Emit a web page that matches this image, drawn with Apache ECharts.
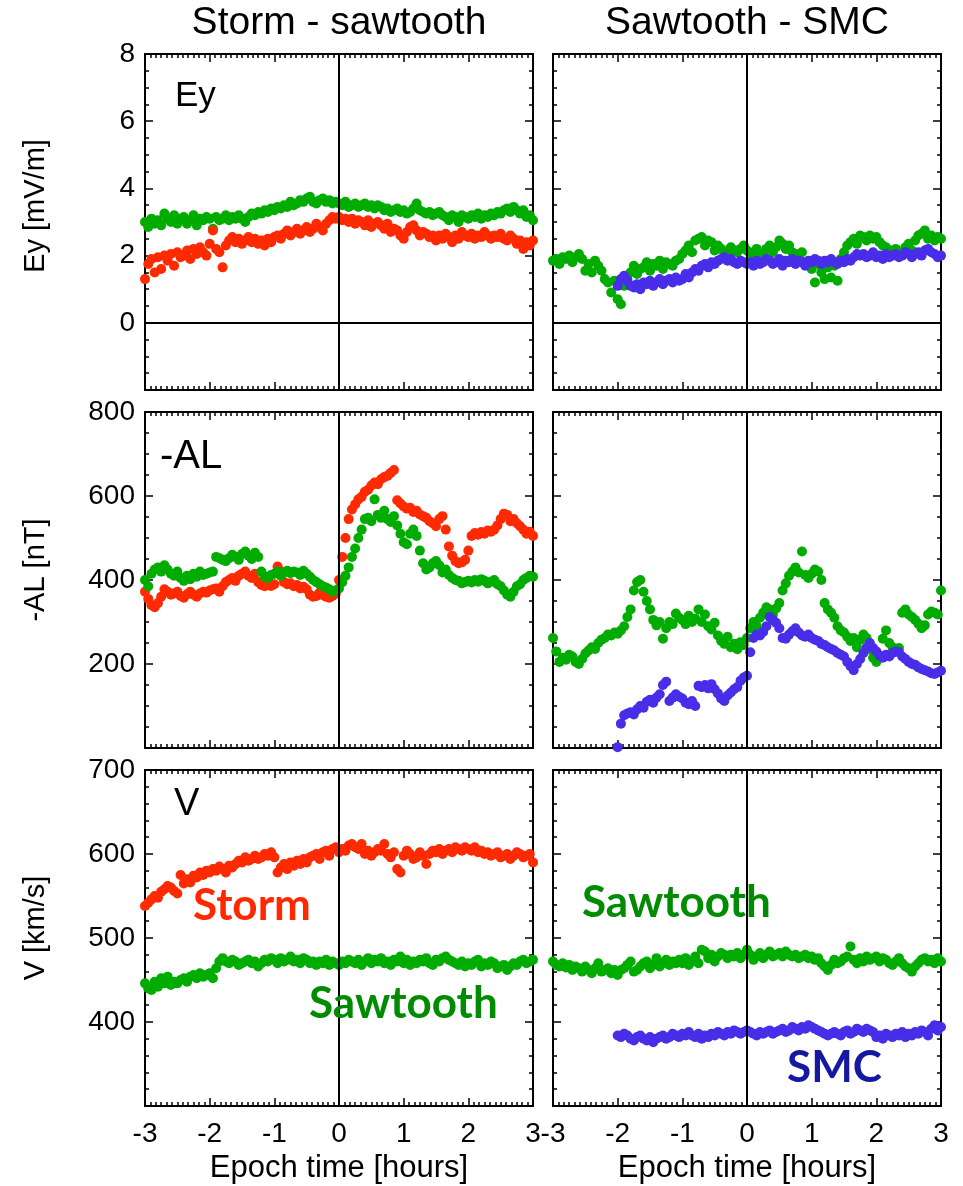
<!DOCTYPE html>
<html><head><meta charset="utf-8">
<script src="https://cdn.jsdelivr.net/npm/echarts@6/dist/echarts.min.js"></script>
<style>html,body{margin:0;padding:0;background:#fff}#c{width:963px;height:1186px}</style>
</head><body><div id="c"></div>
<script>
// Sample grid: values every DT hours, starting at the given epoch time
const DT = 0.05;
const START_FULL = -3;   // series covering -3..3 h
const START_SMC = -2;    // SMC series start at -2 h

const xTickValues = [-3, -2, -1, 0, 1, 2, 3];
const columnTitles = ['Storm - sawtooth', 'Sawtooth - SMC'];
const rowNames = ['Ey [mV/m]', '-AL [nT]', 'V [km/s]'];
const panelTags = ['Ey', '-AL', 'V'];
const xName = 'Epoch time [hours]';

// Row 1: Ey [mV/m]
const eyStorm = [1.3,1.75,1.9,1.5,1.95,1.6,2.0,1.85,2.05,1.7,2.1,1.95,2.0,2.15,1.9,2.2,2.05,2.25,2.1,2.0,
 2.35,2.75,2.2,2.1,1.65,2.3,2.45,2.55,2.4,2.5,2.35,2.45,2.55,2.4,2.5,2.35,2.45,2.3,2.5,2.4,
 2.55,2.6,2.5,2.65,2.75,2.6,2.7,2.8,2.65,2.75,2.85,2.7,2.8,2.95,2.85,2.75,2.95,3.05,3.15,3.1,
 3.15,3.05,3.1,3.0,3.1,2.95,3.05,3.0,2.9,3.05,2.85,2.95,3.0,2.9,2.8,2.95,2.7,2.8,2.75,2.6,
 2.5,2.7,2.85,2.9,2.75,2.6,2.7,2.65,2.55,2.6,2.45,2.6,2.5,2.65,2.55,2.4,2.6,2.5,2.7,2.6,
 2.55,2.65,2.5,2.6,2.55,2.7,2.6,2.5,2.6,2.55,2.65,2.5,2.45,2.6,2.5,2.35,2.45,2.2,2.4,2.3,
 2.45];
const eySawL = [3.0,2.85,3.1,2.95,3.05,2.9,3.25,3.1,3.0,3.2,2.95,3.1,3.15,2.95,3.05,3.2,2.9,3.1,3.05,3.15,
 3.1,2.8,3.15,3.05,3.1,3.2,3.05,3.15,3.1,3.2,3.1,3.0,3.15,3.25,3.2,3.3,3.25,3.35,3.3,3.4,
 3.35,3.45,3.4,3.5,3.45,3.6,3.5,3.55,3.65,3.6,3.7,3.75,3.6,3.55,3.65,3.7,3.6,3.65,3.55,3.6,
 3.55,3.5,3.6,3.45,3.5,3.55,3.45,3.5,3.55,3.45,3.5,3.4,3.5,3.45,3.35,3.4,3.3,3.35,3.4,3.3,
 3.35,3.25,3.3,3.4,3.55,3.35,3.3,3.25,3.3,3.2,3.25,3.3,3.2,3.15,3.05,3.2,3.15,3.0,3.2,3.15,
 3.1,3.2,3.15,3.25,3.1,3.2,3.15,3.25,3.2,3.3,3.25,3.35,3.4,3.3,3.45,3.35,3.25,3.35,3.15,3.2,
 3.05];
const eySawR = [1.85,1.9,1.75,1.95,1.9,2.0,1.8,1.95,2.05,1.9,1.55,1.75,1.5,1.85,1.7,1.55,1.3,1.2,0.9,1.25,
 0.7,0.55,1.1,1.3,1.5,1.7,1.45,1.6,1.65,1.8,1.55,1.75,1.7,1.85,1.6,1.8,1.75,1.7,1.85,1.9,
 2.05,2.15,2.3,2.1,2.45,2.5,2.55,2.3,2.45,2.4,2.15,2.3,2.2,2.1,2.05,2.25,2.15,2.1,2.2,2.3,
 2.15,2.05,2.1,2.2,1.95,2.05,2.2,2.3,2.1,2.25,2.45,2.35,2.2,2.3,2.1,2.05,1.95,2.1,1.8,1.75,
 1.6,1.2,1.75,1.5,1.3,1.65,1.35,1.7,1.25,1.9,2.1,2.3,2.4,2.5,2.35,2.6,2.55,2.45,2.6,2.5,
 2.55,2.4,2.3,2.25,2.15,2.05,2.2,2.0,2.1,2.25,2.35,2.15,2.45,2.6,2.65,2.75,2.5,2.6,2.45,2.55,
 2.5];
const eySmc = [1.1,1.3,1.4,1.25,1.1,1.05,1.15,1.0,1.2,1.15,1.25,1.1,1.2,1.3,1.15,1.25,1.3,1.2,1.35,1.25,
 1.3,1.45,1.35,1.5,1.6,1.55,1.7,1.75,1.65,1.8,1.75,1.85,1.9,1.95,1.85,1.9,1.8,1.75,1.85,1.8,
 1.75,1.8,1.7,1.85,1.75,1.8,1.9,1.85,1.75,1.8,1.9,1.7,1.85,1.8,1.9,1.75,1.85,1.8,1.7,1.85,
 1.8,1.9,1.85,1.75,1.85,1.8,1.9,1.8,1.75,1.85,1.8,1.9,1.85,1.95,2.05,2.0,2.05,1.95,2.0,2.1,
 1.95,2.0,1.9,2.05,1.95,2.0,2.05,1.95,2.0,2.1,2.05,1.95,2.05,2.1,2.0,2.15,2.2,2.1,2.05,1.95,
 2.0];

// Row 2: -AL [nT]
const alStorm = [372,355,340,335,345,360,378,372,365,368,372,362,358,366,372,365,360,368,372,370,
 375,378,380,372,385,395,400,405,398,410,415,420,410,405,415,395,388,385,392,386,
 390,432,420,395,390,392,385,388,380,384,378,365,360,362,370,364,360,358,362,368,
 400,455,500,545,568,580,592,598,610,615,625,632,628,640,645,648,655,662,590,582,
 575,570,572,562,565,556,552,548,540,535,528,545,552,520,480,458,445,440,442,448,
 470,505,512,508,514,510,518,515,520,530,545,558,555,540,545,535,528,520,510,515,
 505];
const alSawL = [400,385,415,425,430,420,435,425,415,410,420,405,398,410,402,415,408,420,412,415,
 418,420,455,452,448,445,452,460,455,448,462,468,458,450,465,455,420,408,405,412,
 415,420,410,418,422,416,420,418,412,422,415,408,400,395,390,385,382,378,372,375,
 380,395,410,430,455,475,500,520,545,548,540,592,555,548,565,545,538,552,530,510,
 490,485,510,520,505,470,440,425,430,440,445,435,418,425,412,405,400,398,392,395,
 398,394,400,396,402,398,392,396,400,390,385,375,365,360,372,385,390,400,405,410,
 408];
const alSawR = [262,230,205,215,210,222,218,205,200,212,225,232,240,236,250,258,262,270,268,275,
 272,280,290,312,330,375,395,400,372,350,330,305,292,300,260,285,300,295,320,310,
 305,295,315,300,308,330,300,318,290,282,298,268,255,248,265,240,248,235,252,245,
 262,285,300,290,310,322,335,330,318,332,345,375,392,410,420,430,418,468,412,405,
 415,425,420,400,345,330,322,310,290,280,275,265,255,262,240,258,270,262,235,215,
 205,215,260,280,250,240,230,238,322,330,318,312,305,296,285,292,318,325,322,318,
 375];
const alSmc = [2,58,78,82,85,80,92,100,96,110,115,108,120,128,150,158,112,120,128,122,
 118,108,104,112,100,148,145,150,142,152,140,130,118,112,125,132,140,145,160,168,
 172,228,262,270,268,276,290,312,305,298,285,262,260,270,278,285,275,268,265,270,
 262,258,255,248,245,240,236,232,226,222,218,205,195,185,200,212,226,240,250,238,
 230,220,215,222,218,226,230,228,218,212,205,200,198,192,188,185,182,178,176,180,
 184];

// Row 3: V [km/s]
const vStorm = [538,542,546,550,548,555,558,562,560,556,553,575,565,570,566,574,572,578,575,580,
 578,582,580,585,582,578,586,584,588,592,590,596,592,594,598,594,596,600,598,602,
 596,578,584,588,582,590,586,592,588,594,590,596,598,600,594,602,604,598,606,608,
 602,606,604,610,612,608,606,612,600,604,598,602,606,604,612,600,596,602,582,578,
 598,604,600,594,596,602,598,588,600,604,602,606,600,604,606,602,608,606,604,608,
 606,604,608,602,604,600,602,598,600,602,596,598,600,594,598,602,600,596,598,600,
 590];
const vSawL = [446,440,438,448,442,452,446,454,444,448,446,450,452,448,454,456,452,458,454,456,
 458,452,464,472,476,472,470,474,472,468,470,472,474,470,472,466,470,474,472,476,
 474,470,476,472,474,478,472,474,470,476,474,470,472,468,472,470,474,468,472,470,
 468,472,470,474,472,470,474,468,472,476,470,474,472,476,470,472,468,474,472,478,
 470,474,468,472,470,474,472,476,470,468,474,472,476,478,474,472,470,468,472,466,
 470,468,472,474,466,470,468,472,470,464,466,468,462,466,470,468,472,474,470,472,
 474];
const vSawR = [472,468,466,470,465,468,462,466,464,460,466,462,458,464,470,460,462,464,458,462,
 456,462,464,468,472,460,462,466,470,472,464,468,476,466,470,474,468,472,470,474,
 470,476,468,472,478,470,486,484,476,480,472,478,482,480,476,480,478,482,476,480,
 486,480,474,478,482,476,480,484,478,480,482,478,484,480,478,480,476,478,480,476,
 478,474,476,470,466,462,468,474,470,472,476,478,490,474,470,476,472,478,474,476,
 478,472,476,474,470,468,472,476,470,466,464,460,466,470,474,476,472,474,470,476,
 472];
const vSmc = [384,382,386,384,380,378,382,384,380,378,382,376,380,382,384,380,382,386,384,382,
 386,384,388,384,382,386,380,384,382,386,384,388,386,384,388,386,390,388,386,388,
 390,388,386,384,388,386,388,390,386,388,390,392,388,390,394,392,390,394,392,396,
 394,392,390,388,386,384,386,388,386,384,388,390,386,388,392,390,388,392,390,388,
 382,384,380,386,384,382,386,384,388,382,386,384,388,386,390,388,384,392,396,390,
 394];

const RED = 'rgb(255,42,0)', GREEN = 'rgb(0,172,0)', BLUE = 'rgb(72,46,232)';
const SANS = '"Liberation Sans", Arial, Helvetica, sans-serif';
const LABEL_FONT = 'Lato, "Open Sans", sans-serif';

const rowAxes = [
  {min: -2, max: 8, interval: 2, minor: 4},
  {min: 0, max: 800, interval: 200, minor: 4},
  {min: 300, max: 700, interval: 100, minor: 5}
];
const colLeft = [145, 553], rowTop = [54, 412, 770], W = 388, H = 336;

function pts(vals, start) {
  return vals.map((v, i) => [Math.round((start + i * DT) * 100) / 100, v]);
}

const grid = [], xAxis = [], yAxis = [], series = [];
const axisLine = {show: true, onZero: false, lineStyle: {color: '#000', width: 2}};
for (let r = 0; r < 3; r++) {
  for (let c = 0; c < 2; c++) {
    const g = grid.length;
    grid.push({left: colLeft[c], top: rowTop[r], width: W, height: H, containLabel: false});
    const ra = rowAxes[r];
    const xBase = {type: 'value', gridIndex: g, min: -3, max: 3, interval: 1,
      axisLine, splitLine: {show: false},
      axisTick: {show: true, inside: true, length: 8, lineStyle: {color: '#000', width: 1.5}},
      minorTick: {show: true, splitNumber: 12, length: 4, lineStyle: {color: '#000', width: 1.5}}};
    xAxis.push(Object.assign({}, xBase, {position: 'bottom',
      axisLabel: {show: r === 2, margin: 14, color: '#000', fontSize: 28, fontFamily: SANS,
        formatter: v => xTickValues.includes(v) ? String(v) : ''}}));
    xAxis.push(Object.assign({}, xBase, {position: 'top', axisLabel: {show: false}}));
    const yBase = {type: 'value', gridIndex: g, min: ra.min, max: ra.max, interval: ra.interval,
      axisLine, splitLine: {show: false},
      axisTick: {show: true, inside: true, length: 8, lineStyle: {color: '#000', width: 1.5}},
      minorTick: {show: true, splitNumber: ra.minor, length: 4, lineStyle: {color: '#000', width: 1.5}}};
    yAxis.push(Object.assign({}, yBase, {position: 'left',
      axisLabel: {show: c === 0, margin: 10, color: '#000', fontSize: 28, fontFamily: SANS,
        formatter: v => v === ra.min ? '' : String(v)}}));
    yAxis.push(Object.assign({}, yBase, {position: 'right', axisLabel: {show: false}}));
  }
}

const panelSeries = [
  [[eySawL, START_FULL, GREEN], [eyStorm, START_FULL, RED]],
  [[eySawR, START_FULL, GREEN], [eySmc, START_SMC, BLUE]],
  [[alStorm, START_FULL, RED], [alSawL, START_FULL, GREEN]],
  [[alSawR, START_FULL, GREEN], [alSmc, START_SMC, BLUE]],
  [[vStorm, START_FULL, RED], [vSawL, START_FULL, GREEN]],
  [[vSawR, START_FULL, GREEN], [vSmc, START_SMC, BLUE]]
];
panelSeries.forEach((list, g) => {
  list.forEach((s, k) => {
    const ser = {type: 'scatter', xAxisIndex: 2 * g, yAxisIndex: 2 * g,
      data: pts(s[0], s[1]), symbol: 'circle', symbolSize: 10,
      itemStyle: {color: s[2], opacity: 1}, silent: true, clip: true};
    if (k === 0) {
      const ml = [{xAxis: 0}];
      if (g < 2) ml.push({yAxis: 0});
      ser.markLine = {silent: true, symbol: ['none', 'none'], label: {show: false},
        lineStyle: {color: '#000', width: 2, type: 'solid'}, data: ml, z: 5};
    }
    series.push(ser);
  });
});

function txt(x, y, text, font, fill, align, rot) {
  const e = {type: 'text', x, y, silent: true, z: 100,
    style: {text, font, fill, align: align || 'center', textAlign: align || 'center',
      verticalAlign: 'middle', textVerticalAlign: 'middle'}};
  if (rot) e.rotation = rot;
  return e;
}
const graphic = [
  txt(339, 23, columnTitles[0], '39px ' + SANS, '#000'),
  txt(747, 23, columnTitles[1], '39px ' + SANS, '#000'),
  txt(36, 206, rowNames[0], '29px ' + SANS, '#000', 'center', Math.PI / 2),
  txt(36, 570, rowNames[1], '29px ' + SANS, '#000', 'center', Math.PI / 2),
  txt(36, 928, rowNames[2], '29px ' + SANS, '#000', 'center', Math.PI / 2),
  txt(339, 1168, xName, '31px ' + SANS, '#000'),
  txt(747, 1168, xName, '31px ' + SANS, '#000'),
  txt(175, 96, panelTags[0], '35px "Liberation Sans Narrow", ' + SANS, '#000', 'left'),
  txt(160, 457, panelTags[1], '40px ' + SANS, '#000', 'left'),
  txt(174, 805, panelTags[2], '38px ' + SANS, '#000', 'left'),
  txt(193, 906, 'Storm', 'bold 44px ' + LABEL_FONT, 'rgb(255,40,0)', 'left'),
  txt(309, 1004, 'Sawtooth', 'bold 44px ' + LABEL_FONT, 'rgb(0,140,0)', 'left'),
  txt(582, 903, 'Sawtooth', 'bold 44px ' + LABEL_FONT, 'rgb(0,140,0)', 'left'),
  txt(787, 1068, 'SMC', 'bold 44px ' + LABEL_FONT, 'rgb(20,25,160)', 'left')
];

const chart = echarts.init(document.getElementById('c'), null, {renderer: 'canvas'});
chart.setOption({animation: false, backgroundColor: '#fff', grid, xAxis, yAxis, series, graphic});
</script></body></html>
